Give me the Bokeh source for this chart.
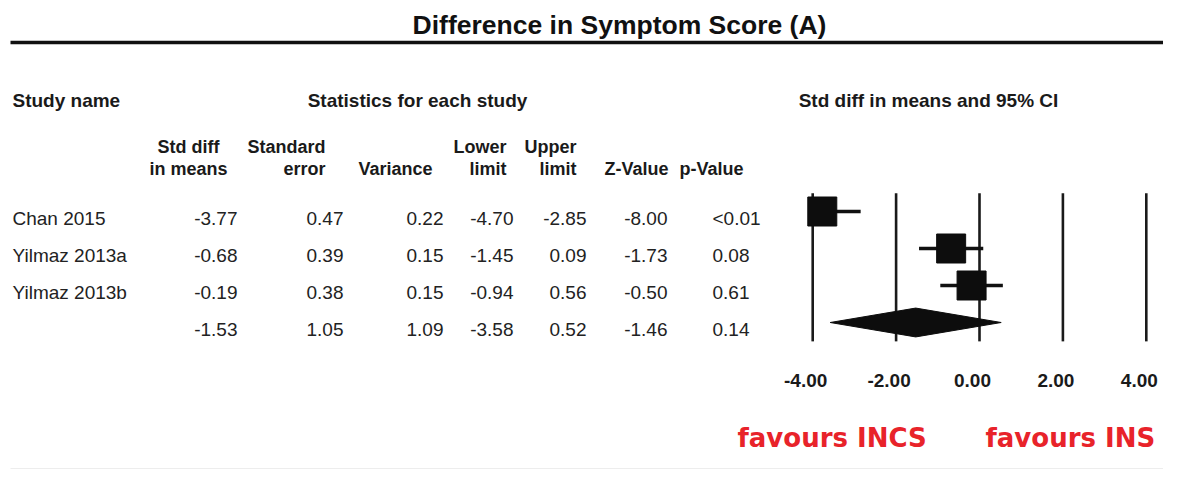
from bokeh.plotting import figure
from bokeh.models import Range1d
from bokeh.core.properties import value
from bokeh.embed import file_html
from bokeh.resources import INLINE
import numpy as np

# ---------------- data ----------------
title_text = "Difference in Symptom Score (A)"
studies = ["Chan 2015", "Yilmaz 2013a", "Yilmaz 2013b", ""]
std_diff = [-3.77, -0.68, -0.19, -1.53]
std_err = [0.47, 0.39, 0.38, 1.05]
variance = [0.22, 0.15, 0.15, 1.09]
lower = [-4.70, -1.45, -0.94, -3.58]
upper = [-2.85, 0.09, 0.56, 0.52]
z_value = [-8.00, -1.73, -0.50, -1.46]
p_value = ["<0.01", "0.08", "0.61", "0.14"]
axis_ticks = [-4, -2, 0, 2, 4]
tick_labels = ["-4.00", "-2.00", "0.00", "2.00", "4.00"]
favours = ["favours INCS", "favours INS"]
header_top = ["Study name", "Statistics for each study", "Std diff in means and 95% CI"]
col_head1 = ["Std diff", "Standard", "", "Lower", "Upper", "", ""]
col_head2 = ["in means", "error", "Variance", "limit", "limit", "Z-Value", "p-Value"]

# ---------------- layout constants (reference pixels) ----------------
W, H, OFF = 1163, 470, 0
X_ZERO, PPU = 979.0, 41.7          # pixel of 0 on the effect scale, px per unit
ROW0, ROW_H = 211.0, 37.0          # pixel of first row centre, row spacing
FONT = value("Liberation Sans")

p = figure(width=W, height=H, output_backend="svg", toolbar_location=None,
           x_range=Range1d(OFF, OFF + W), y_range=Range1d(OFF + H, OFF),
           min_border=0, outline_line_color=None, background_fill_color="white",
           border_fill_color="white")
p.axis.visible = False
p.grid.visible = False
p.extra_x_ranges = {"smd": Range1d((OFF - X_ZERO) / PPU, (OFF + W - X_ZERO) / PPU)}
p.extra_y_ranges = {"row": Range1d((OFF + H - ROW0) / ROW_H, (OFF - ROW0) / ROW_H)}

# title and rule
p.text(x=[619], y=[24], text=[title_text], text_align="center", text_baseline="middle",
       text_font=FONT, text_font_style="bold", text_font_size="26.5px", text_color="#111111")
p.segment(x0=[10], y0=[42], x1=[1163], y1=[42], line_width=3.5, line_color="#111111")
p.segment(x0=[10], y0=[468], x1=[1163], y1=[468], line_width=1, line_color="#ededed")

# top headers
p.text(x=[12], y=[100], text=[header_top[0]], text_align="left", text_baseline="middle",
       text_font=FONT, text_font_style="bold", text_font_size="19px", text_color="#1a1a1a")
p.text(x=[417, 928], y=[100, 100], text=header_top[1:], text_align="center",
       text_baseline="middle", text_font=FONT, text_font_style="bold",
       text_font_size="19px", text_color="#1a1a1a")

# column headers
head_x = [188, 325, 432, 506, 576, 668, 743]
head_align = ["center", "right", "right", "right", "right", "right", "right"]
for i in range(len(col_head2)):
    if col_head1[i]:
        p.text(x=[head_x[i]], y=[146], text=[col_head1[i]], text_align=head_align[i],
               text_baseline="middle", text_font=FONT, text_font_style="bold",
               text_font_size="18px", text_color="#1a1a1a")
    p.text(x=[head_x[i]], y=[168], text=[col_head2[i]], text_align=head_align[i],
           text_baseline="middle", text_font=FONT, text_font_style="bold",
           text_font_size="18px", text_color="#1a1a1a")

rows = list(range(len(studies)))
# study names and statistics
p.text(x=[12] * len(rows), y=rows, y_range_name="row", text=studies, text_align="left",
       text_baseline="middle", y_offset=7, text_font=FONT, text_font_size="19px",
       text_color="#222222")
cols = [std_diff, std_err, variance, lower, upper, z_value]
col_x = [237, 343, 443, 513, 586, 667]
for cx, vals in zip(col_x, cols):
    p.text(x=[cx] * len(vals), y=rows, y_range_name="row", text=["%.2f" % v for v in vals],
           text_align="right", text_baseline="middle", y_offset=7, text_font=FONT,
           text_font_size="19px", text_color="#222222")
p.text(x=[712] * len(rows), y=rows, y_range_name="row", text=p_value, text_align="left",
       text_baseline="middle", y_offset=7, text_font=FONT, text_font_size="19px",
       text_color="#222222")

# forest plot: reference lines
p.segment(x0=axis_ticks, x1=axis_ticks, y0=[-0.49] * len(axis_ticks), y1=[3.51] * len(axis_ticks),
          x_range_name="smd", y_range_name="row", line_width=2.6, line_color="#1a1a1a")
n = 3
lo_c = np.clip(lower[:n], -4, 4)
hi_c = np.clip(upper[:n], -4, 4)
p.segment(x0=lo_c, x1=hi_c, y0=rows[:n], y1=rows[:n], x_range_name="smd", y_range_name="row",
          line_width=3.5, line_color="#111111")
p.rect(x=std_diff[:n], y=rows[:n], width=29, height=29, width_units="screen",
       height_units="screen", x_range_name="smd", y_range_name="row",
       fill_color="#0d0d0d", line_color="#0d0d0d")
# summary diamond
r = rows[3]
p.patch(x=[lower[3], std_diff[3], upper[3], std_diff[3]], y=[r, r - 0.39, r, r + 0.39],
        x_range_name="smd", y_range_name="row", fill_color="#0d0d0d", line_color="#0d0d0d")

# tick labels on the effect scale
p.text(x=axis_ticks, y=[380] * len(axis_ticks), x_range_name="smd", text=tick_labels,
       text_align="center", text_baseline="middle", x_offset=-7, text_font=FONT,
       text_font_style="bold", text_font_size="19px", text_color="#1a1a1a")

# favours labels
p.text(x=[737, 985], y=[437, 437], text=favours, text_align="left", text_baseline="middle",
       text_font=value("DejaVu Sans"), text_font_style="bold", text_font_size="26px",
       text_color="#e8232a")

open("out.html", "w").write(file_html(p, INLINE))
